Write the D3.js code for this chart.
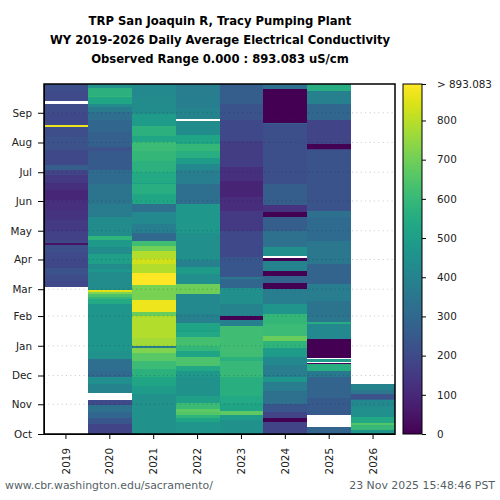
<!DOCTYPE html>
<html>
<head>
<meta charset="utf-8">
<script src="https://d3js.org/d3.v7.min.js"></script>
<style>
  html, body { margin: 0; padding: 0; background: #fff; }
  text { font-family: "DejaVu Sans", sans-serif; }
</style>
</head>
<body>
<div id="chart"></div>
<script>
// each entry is [first day of water year, conductivity], value holds until the next entry
const years = ["2019", "2020", "2021", "2022", "2023", "2024", "2025", "2026"];
const months = ["Oct", "Nov", "Dec", "Jan", "Feb", "Mar", "Apr", "May", "Jun", "Jul", "Aug", "Sep"];
const monthDays = [0, 31, 61, 92, 123, 151, 182, 212, 243, 273, 304, 335];
const titleLines = [
  "TRP San Joaquin R, Tracy Pumping Plant",
  "WY 2019-2026 Daily Average Electrical Conductivity",
  "Observed Range 0.000 : 893.083 uS/cm"
];
const maxEC = 893.083;
const colorTicks = [0, 100, 200, 300, 400, 500, 600, 700, 800];

const ec2019 = [[153, 195], [160, 205], [166, 225], [173, 190], [181.5, 200], [190, 215], [197, 200], [197.5, 45], [199, 190], [202, 170], [212, 150], [223, 130], [234, 120], [244, 95], [254.5, 125], [262, 150], [270, 180], [275, 265], [280.5, 195], [296, 225], [310, 210], [320, 870], [322, 195], [335, 205], [344, null], [347.6, 200], [358, 215]];
const ec2020 = [[0, 180], [10, 240], [17, 290], [23, 330], [30, 200], [35.5, null], [43, 400], [52, 440], [59, 300], [66, 320], [78, 450], [87, 470], [122, 470], [136, 540], [141, 590], [143, 640], [146, 720], [148, 850], [150, 430], [169, 470], [172, 430], [177, 500], [188, 430], [195, 480], [202, 580], [207, 430], [226, 370], [240, 340], [261, 310], [275, 250], [295, 225], [299, 270], [315, 290], [327, 320], [336, 370], [341, 430], [344, 530], [351, 590], [352, 480], [352.5, 570], [361, 450]];
const ec2021 = [[0, 450], [42, 490], [50, 530], [59, 570], [68, 610], [76.5, 660], [84, 720], [90, 370], [92, 770], [100, 790], [122, 790], [123, 690], [127, 870], [140, 710], [155, 893], [167.5, 790], [177, 830], [182, 790], [191, 700], [196, 620], [201, 300], [210, 380], [219, 420], [231, 330], [240, 530], [250, 560], [261, 510], [262, 540], [273, 570], [285, 590], [295, 610], [304, 530], [311, 570], [321.5, 490], [334, 430], [351, 420]];
const ec2022 = [[0, 465], [12, 520], [17, 580], [20, 650], [23, 670], [26, 610], [32, 500], [40, 450], [59, 475], [66, 535], [71, 640], [80, 520], [87, 590], [92, 625], [101, 535], [106, 510], [108, 520], [116, 385], [125, 420], [146, 695], [156, 445], [167, 490], [174, 385], [181, 445], [210, 475], [240, 320], [261, 375], [275, 420], [282, 490], [288, 560], [295, 590], [302, 520], [312, 430], [326.5, null], [329, 400], [340, 380], [355, 375]];
const ec2023 = [[0, 450], [15, 490], [20, 670], [24, 520], [32, 540], [40, 565], [59, 600], [76, 570], [80, 620], [113, 385], [119, 0], [123, 400], [136, 445], [152, 295], [162, 355], [164, 240], [185, 195], [212, 150], [233, 115], [247, 90], [264, 125], [278, 160], [306, 195], [327, 230], [344, 265]];
const ec2024 = [[0, 180], [13, 0], [17, 180], [23, 240], [31, 330], [45, 375], [54, 470], [59, 375], [72, 420], [80, 490], [90, 580], [97, 690], [102, 610], [115, 590], [125, 465], [136, 375], [151, 0], [157, 285], [165, 0], [170, 400], [180, 0], [184, null], [186, 445], [195, 330], [212, 265], [226, 0], [232, 135], [239, 265], [261, 215], [323, 265], [324, 0], [360, 330]];
const ec2025 = [[0, 285], [7, null], [20, 250], [38, 285], [59, 360], [66, 560], [73, 0], [74.5, null], [75.5, 490], [78, null], [79, 0], [99, 420], [115, 555], [117, 355], [122, 340], [139, 375], [156, 285], [177, 355], [201, 310], [226, 330], [233, 230], [296, 160], [297, 0], [302, 180], [327, 295], [344, 385], [358, 555]];
const ec2026 = [[0, 470], [4, 600], [9, 650], [11, 535], [18, 445], [28, 420], [35.5, 285], [37, 225], [42, 355], [46, 400]];
const allYears = [ec2019, ec2020, ec2021, ec2022, ec2023, ec2024, ec2025, ec2026];
const yearEnds = [365, 365, 365, 365, 365, 365, 365, 52];

const svg = d3.select("#chart").append("svg")
  .attr("width", 500)
  .attr("height", 500);

const x = d3.scaleBand().domain(years).range([44, 395]);
const y = d3.scaleLinear().domain([0, 365]).range([434, 84]);
const color = d3.scaleSequential(d3.interpolateViridis).domain([0, maxEC]);

// heatmap
allYears.forEach((rows, i) => {
  const segs = rows.map((d, j) => ({
    from: d[0],
    to: j + 1 < rows.length ? rows[j + 1][0] : yearEnds[i],
    value: d[1]
  })).filter(d => d.value !== null);

  svg.append("g").selectAll("rect")
    .data(segs)
    .join("rect")
    .attr("x", x(years[i]))
    .attr("width", x.bandwidth())
    .attr("y", d => y(d.to))
    .attr("height", d => y(d.from) - y(d.to))
    .attr("fill", d => color(d.value))
    .attr("shape-rendering", "crispEdges");
});

// dotted month lines
svg.append("g").selectAll("line")
  .data(monthDays.slice(1))
  .join("line")
  .attr("x1", 44)
  .attr("x2", 395)
  .attr("y1", d => y(d))
  .attr("y2", d => y(d))
  .attr("stroke", "#000")
  .attr("stroke-opacity", 0.22)
  .attr("stroke-width", 1)
  .attr("stroke-dasharray", "1 3.4");

// axes
const yAxis = svg.append("g")
  .attr("transform", "translate(44,0)")
  .call(d3.axisLeft(y).tickValues(monthDays).tickFormat((d, i) => months[i]).tickSize(6).tickSizeOuter(0));
const xAxis = svg.append("g")
  .attr("transform", "translate(0,434)")
  .call(d3.axisBottom(x).tickSize(5).tickSizeOuter(0));

yAxis.selectAll("text").attr("font-size", 10.4).attr("fill", "#222").attr("x", -12);
xAxis.selectAll("text")
  .attr("font-size", 10.4)
  .attr("fill", "#222")
  .attr("text-anchor", "end")
  .attr("transform", "rotate(-90)")
  .attr("x", -14)
  .attr("y", 0)
  .attr("dy", "0.35em");

svg.append("rect")
  .attr("x", 44)
  .attr("y", 84)
  .attr("width", 351)
  .attr("height", 350)
  .attr("fill", "none")
  .attr("stroke", "#000")
  .attr("stroke-width", 1.5);

// colorbar
const cbar = d3.scaleLinear().domain([0, maxEC]).range([434, 84]);
svg.append("g").selectAll("rect")
  .data(d3.range(0, 350))
  .join("rect")
  .attr("x", 403)
  .attr("width", 19)
  .attr("y", d => 84 + d)
  .attr("height", 1.2)
  .attr("fill", d => color(cbar.invert(84 + d + 0.5)))
  .attr("shape-rendering", "crispEdges");
svg.append("rect")
  .attr("x", 403)
  .attr("y", 84)
  .attr("width", 19)
  .attr("height", 350)
  .attr("fill", "none")
  .attr("stroke", "#000")
  .attr("stroke-width", 1);

const cAxis = svg.append("g")
  .attr("transform", "translate(422,0)")
  .call(d3.axisRight(cbar)
    .tickValues(colorTicks.concat([maxEC]))
    .tickFormat(d => d === maxEC ? "> 893.083" : d)
    .tickSize(4)
    .tickSizeOuter(0));
cAxis.select(".domain").remove();
cAxis.selectAll("text").attr("font-size", 10.4).attr("fill", "#222").attr("x", 15);

// title and footer
svg.append("g").selectAll("text")
  .data(titleLines)
  .join("text")
  .attr("x", 220)
  .attr("y", (d, i) => 24.5 + i * 19)
  .attr("text-anchor", "middle")
  .attr("font-size", 11.6)
  .attr("font-weight", "bold")
  .attr("fill", "#000")
  .text(d => d);

svg.append("text")
  .attr("x", 5)
  .attr("y", 489)
  .attr("font-size", 10.9)
  .attr("fill", "#555f66")
  .text("www.cbr.washington.edu/sacramento/");
svg.append("text")
  .attr("x", 495)
  .attr("y", 489)
  .attr("text-anchor", "end")
  .attr("font-size", 10.9)
  .attr("fill", "#555f66")
  .text("23 Nov 2025 15:48:46 PST");
</script>
</body>
</html>
